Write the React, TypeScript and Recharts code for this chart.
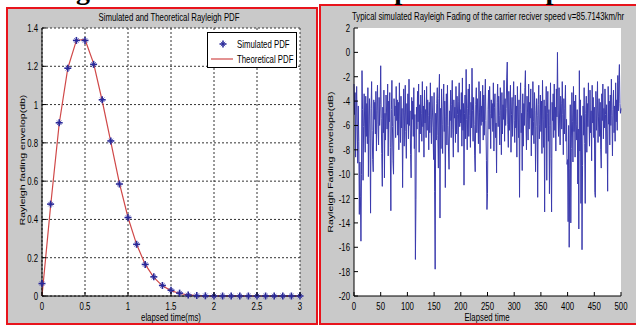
import { LineChart, Line, XAxis, YAxis, CartesianGrid, Legend } from 'recharts';

// left panel: Rayleigh PDF
const elapsedMs = [
  0, 0.1, 0.2, 0.3, 0.4, 0.5, 0.6, 0.7, 0.8, 0.9, 1, 1.1, 1.2, 1.3, 1.4, 1.5,
  1.6, 1.7, 1.8, 1.9, 2, 2.1, 2.2, 2.3, 2.4, 2.5, 2.6, 2.7, 2.8, 2.9, 3,
];
const simulatedPdf = [
  0.065, 0.48, 0.905, 1.19, 1.335, 1.335, 1.21, 1.025, 0.81, 0.585, 0.41, 0.27, 0.165, 0.1, 0.055, 0.03,
  0.015, 0.005, 0.002, 0.001, 0, 0, 0, 0, 0, 0, 0, 0, 0, 0, 0,
];
const theoreticalPdf = [
  0, 0.47, 0.9, 1.19, 1.335, 1.34, 1.215, 1.02, 0.805, 0.59, 0.41, 0.27, 0.165, 0.097, 0.053, 0.028,
  0.013, 0.006, 0.002, 0.001, 0, 0, 0, 0, 0, 0, 0, 0, 0, 0, 0,
];
const pdfTicksX = [0, 0.5, 1, 1.5, 2, 2.5, 3];
const pdfTicksY = [0, 0.2, 0.4, 0.6, 0.8, 1, 1.2, 1.4];

// right panel: simulated fading envelope (dB), samples 0..500
const fadingDb = [
  -2.6, -5.1, -3.3, -8.6, -4.9, -2.8, -6.2, -9.1, -4.4, -7.3,
  -13.3, -9.0, -11.8, -15.5, -10.0, -1.5, -4.7, -10.5, -6.1, -3.4,
  -5.8, -8.2, -3.6, -6.9, -4.2, -7.5, -2.9, -10.2, -5.3, -3.8,
  -7.1, -13.2, -4.6, -2.4, -6.4, -8.8, -9.8, -3.9, -5.5, -4.1,
  -6.7, -3.2, -8.1, -4.8, -2.7, -5.9, -7.6, -3.7, -6.0, -4.3,
  -1.1, -5.4, -8.3, -11.0, -4.5, -6.6, -3.1, -10.3, -5.0, -7.2,
  -3.5, -4.9, -6.3, -2.6, -8.5, -4.0, -5.7, -3.3, -7.8, -13.0,
  -4.7, -2.3, -6.1, -8.9, -10.0, -3.8, -5.2, -4.4, -7.0, -2.8,
  -5.6, -3.9, -6.8, -4.1, -8.0, -2.5, -5.3, -7.4, -3.6, -6.2,
  -4.6, -11.1, -5.8, -3.0, -7.7, -4.9, -2.7, -6.5, -8.7, -4.2,
  -5.9, -3.4, -7.1, -2.2, -6.0, -4.8, -8.4, -10.3, -3.7, -5.5,
  -4.0, -6.9, -2.9, -7.9, -5.1, -17.0, -12.1, -4.5, -6.3, -3.2,
  -5.7, -2.6, -8.2, -4.3, -6.7, -3.5, -5.0, -7.3, -2.4, -6.1,
  -4.4, -8.6, -3.1, -5.8, -4.7, -7.0, -2.8, -6.4, -3.9, -5.2,
  -8.0, -4.1, -6.6, -2.5, -5.5, -7.5, -3.6, -4.9, -6.2, -8.8,
  -3.3, -11.4, -17.8, -5.0, -7.2, -4.2, -2.9, -6.8, -9.5, -3.8,
  -1.8, -13.6, -4.6, -7.9, -3.0, -5.9, -8.3, -4.4, -2.6, -6.5,
  -4.0, -11.1, -5.3, -3.4, -7.6, -2.7, -6.0, -8.1, -9.6, -4.8,
  -5.6, -3.1, -7.0, -4.3, -2.3, -6.3, -8.6, -3.9, -5.4, -4.5,
  -7.4, -2.8, -6.7, -3.6, -5.1, -8.2, -4.0, -2.5, -6.1, -4.7,
  -5.8, -3.3, -7.7, -2.1, -6.4, -4.2, -10.9, -5.0, -3.5, -7.1,
  -1.4, -5.5, -8.0, -4.6, -3.0, -6.9, -2.6, -5.2, -7.8, -4.1,
  -6.2, -1.3, -4.8, -7.3, -3.7, -5.9, -8.5, -9.8, -4.3, -2.9,
  -6.6, -3.8, -5.3, -7.5, -2.4, -4.9, -8.3, -3.2, -6.0, -4.4,
  -5.7, -2.7, -7.2, -3.5, -6.8, -4.0, -2.2, -5.6, -8.9, -12.9,
  -11.6, -4.7, -3.1, -6.3, -2.8, -5.0, -7.9, -3.9, -5.4, -4.2,
  -6.5, -2.5, -8.1, -4.5, -3.4, -7.0, -5.8, -9.9, -4.1, -2.6,
  -6.1, -3.6, -5.2, -7.6, -2.9, -4.8, -8.4, -3.3, -6.7, -4.3,
  -5.5, -2.3, -7.3, -3.8, -6.0, -4.6, -2.1, -0.8, -5.9, -7.8,
  -3.2, -6.4, -4.9, -2.7, -8.2, -5.1, -3.7, -6.9, -4.0, -2.4,
  -5.6, -7.4, -3.5, -6.2, -4.4, -8.6, -2.8, -5.3, -7.0, -3.9,
  -11.9, -4.7, -2.5, -6.6, -5.0, -9.7, -3.4, -7.7, -4.2, -6.0,
  -2.9, -1.5, -5.8, -8.0, -3.6, -4.9, -7.2, -2.6, -6.3, -4.1,
  -5.4, -3.0, -8.5, -4.6, -6.8, -2.4, -5.7, -7.5, -3.3, -4.8,
  -9.8, -6.1, -3.8, -5.2, -11.9, -4.3, -2.7, -7.1, -5.9, -3.5,
  -6.5, -4.0, -8.3, -2.3, -5.5, -7.8, -3.9, -13.1, -4.4, -6.2,
  -2.8, -10.5, -5.0, -3.2, -7.3, -4.7, -11.6, -6.0, -2.5, -8.7,
  -13.1, -4.1, -5.6, -3.4, -7.0, -2.6, -6.4, -4.5, -8.1, -3.0,
  -5.3, 0.0, -4.8, -6.9, -2.9, -5.8, -7.6, -3.6, -4.2, -6.3,
  -2.4, -5.1, -8.4, -3.8, -6.7, -4.6, -2.7, -7.3, -5.5, -9.2,
  -8.8, -13.9, -6.0, -16.0, -9.5, -4.3, -14.0, -7.9, -3.3, -5.7,
  -9.0, -2.8, -6.5, -4.0, -8.6, -3.5, -5.9, -7.2, -4.7, -10.8,
  -6.3, -14.5, -1.5, -8.1, -3.9, -12.4, -5.2, -16.2, -9.3, -4.4,
  -6.8, -2.9, -7.5, -12.4, -5.0, -3.6, -8.2, -4.2, -6.1, -2.5,
  -5.4, -7.7, -3.1, -6.6, -4.8, -8.9, -2.7, -5.8, -3.7, -7.0,
  -4.5, -11.5, -11.9, -3.2, -6.4, -4.9, -2.4, -7.4, -5.3, -3.8,
  -6.9, -4.1, -8.0, -9.5, -3.4, -5.6, -2.6, -7.1, -4.6, -6.2,
  -3.0, -5.1, -8.3, -4.3, -6.7, -11.4, -2.8, -5.9, -4.0, -7.6,
  -3.5, -6.0, -2.2, -5.2, -8.5, -4.7, -3.1, -6.6, -4.4, -7.3,
  -2.5, -5.7, -3.9, -6.4, -1.9, -4.8, -2.3, -1.0, -4.2, -5.0,
  -4.6,
];
const fadingTicksX = [0, 50, 100, 150, 200, 250, 300, 350, 400, 450, 500];
const fadingTicksY = [2, 0, -2, -4, -6, -8, -10, -12, -14, -16, -18, -20];

const pdfData = elapsedMs.map((t, i) => ({ t, sim: simulatedPdf[i], theo: theoreticalPdf[i] }));
const fadingData = fadingDb.map((db, i) => ({ n: i, db }));

const FONT = '"Liberation Sans", Arial, sans-serif';
const SQ = 0.68; // the matlab screenshot is squeezed horizontally
const BG = '#c9c9c9';
const RED = '#e8141c';
const THEO = '#d04848';
const STAR = '#2a2a9a';

const squeeze = (x: number, y: number) => `translate(${x},${y}) scale(${SQ},1)`;

const BottomTick = ({ x, y, payload }: any) => (
  <g>
    <line x1={x} x2={x} y1={y} y2={y - 4} stroke="#000" />
    <text transform={squeeze(x, y + 14)} textAnchor="middle" fontSize={11.5} fontFamily={FONT} fill="#000">
      {payload.value}
    </text>
  </g>
);
const LeftTick = ({ x, y, payload }: any) => (
  <g>
    <line x1={x} x2={x + 4} y1={y} y2={y} stroke="#000" />
    <text transform={squeeze(x - 4, y + 4)} textAnchor="end" fontSize={11.5} fontFamily={FONT} fill="#000">
      {payload.value}
    </text>
  </g>
);
const TopTick = ({ x, y }: any) => <line x1={x} x2={x} y1={y} y2={y + 4} stroke="#000" />;
const RightTick = ({ x, y }: any) => <line x1={x} x2={x - 4} y1={y} y2={y} stroke="#000" />;

const renderStar = ({ cx, cy, index }: any) => (
  <g key={`s${index}`} stroke={STAR}>
    <line x1={cx - 3.5} x2={cx + 3.5} y1={cy} y2={cy} strokeWidth={1.6} />
    <line x1={cx} x2={cx} y1={cy - 3.5} y2={cy + 3.5} strokeWidth={1.6} />
    <line x1={cx - 2.2} x2={cx + 2.2} y1={cy - 2.2} y2={cy + 2.2} strokeWidth={0.8} />
    <line x1={cx - 2.2} x2={cx + 2.2} y1={cy + 2.2} y2={cy - 2.2} strokeWidth={0.8} />
  </g>
);

const PdfLegend = () => (
  <svg width={90} height={36} style={{ display: 'block' }}>
    <rect x={0.5} y={0.5} width={89} height={35} fill="#fff" stroke="#000" />
    {renderStar({ cx: 16, cy: 12, index: 0 })}
    <text transform={squeeze(30, 16)} fontSize={11.5} fontFamily={FONT} fill="#000">Simulated PDF</text>
    <line x1={4} x2={26} y1={27} y2={27} stroke={THEO} strokeWidth={1.2} />
    <text transform={squeeze(30, 31)} fontSize={11.5} fontFamily={FONT} fill="#000">Theoretical PDF</text>
  </svg>
);

const panel = (left: number, top: number, width: number, height: number): React.CSSProperties => ({
  position: 'absolute',
  left,
  top,
  width,
  height,
  border: `2px solid ${RED}`,
  boxSizing: 'border-box',
  background: BG,
});

export default function App() {
  return (
    <div style={{ position: 'absolute', left: 0, top: 0, width: 636, height: 327, overflow: 'hidden', background: '#fff' }}>
      <div style={panel(6, 7, 312, 318)}>
        <LineChart width={308} height={314} data={pdfData} margin={{ top: 19, right: 16, bottom: 0, left: 0 }}>
          <CartesianGrid fill="#fff" stroke="#333" strokeDasharray="2 2" />
          <XAxis dataKey="t" type="number" domain={[0, 3]} ticks={pdfTicksX} interval={0} height={27}
            tickSize={0} tickMargin={0} tickLine={false} tick={BottomTick} axisLine={{ stroke: '#000' }} />
          <XAxis xAxisId="top" dataKey="t" type="number" domain={[0, 3]} ticks={pdfTicksX} interval={0}
            orientation="top" height={0} tickSize={0} tickMargin={0} tickLine={false} tick={TopTick} axisLine={{ stroke: '#000' }} />
          <YAxis type="number" domain={[0, 1.4]} ticks={pdfTicksY} interval={0} width={34}
            tickSize={0} tickMargin={0} tickLine={false} tick={LeftTick} axisLine={{ stroke: '#000' }} />
          <YAxis yAxisId="right" type="number" domain={[0, 1.4]} ticks={pdfTicksY} interval={0} width={0}
            orientation="right" tickSize={0} tickMargin={0} tickLine={false} tick={RightTick} axisLine={{ stroke: '#000' }} />
          <Legend content={PdfLegend} layout="vertical" align="center" verticalAlign="middle"
            wrapperStyle={{ left: 199, top: 23, width: 90, height: 36 }} />
          <Line type="linear" dataKey="theo" stroke={THEO} strokeWidth={1.2} dot={false} activeDot={false} isAnimationActive={false} />
          <Line type="linear" dataKey="sim" stroke="none" dot={renderStar} activeDot={false} isAnimationActive={false} />
        </LineChart>
      </div>
      <div style={panel(319, 4, 321, 321)}>
        <LineChart width={317} height={317} data={fadingData} margin={{ top: 22, right: 17, bottom: 0, left: 0 }}>
          <CartesianGrid fill="#fff" horizontal={false} vertical={false} />
          <XAxis dataKey="n" type="number" domain={[0, 500]} ticks={fadingTicksX} interval={0} height={27}
            tickSize={0} tickMargin={0} tickLine={false} tick={BottomTick} axisLine={{ stroke: '#000' }} />
          <XAxis xAxisId="top" dataKey="n" type="number" domain={[0, 500]} ticks={fadingTicksX} interval={0}
            orientation="top" height={0} tickSize={0} tickMargin={0} tickLine={false} tick={TopTick} axisLine={{ stroke: '#000' }} />
          <YAxis type="number" domain={[-20, 2]} ticks={fadingTicksY} interval={0} width={33}
            tickSize={0} tickMargin={0} tickLine={false} tick={LeftTick} axisLine={{ stroke: '#000' }} />
          <YAxis yAxisId="right" type="number" domain={[-20, 2]} ticks={fadingTicksY} interval={0} width={0}
            orientation="right" tickSize={0} tickMargin={0} tickLine={false} tick={RightTick} axisLine={{ stroke: '#000' }} />
          <Line type="linear" dataKey="db" stroke="#3a3aad" strokeWidth={1} dot={false} activeDot={false} isAnimationActive={false} />
        </LineChart>
      </div>
      <svg width={636} height={327} style={{ position: 'absolute', left: 0, top: 0, pointerEvents: 'none' }}>
        <g fontFamily='"Liberation Serif", "Times New Roman", serif' fontWeight="bold" fontSize={28} fill="#000">
          <text x={51} y={-1}>Figure 8: Simulated</text>
          <text x={318} y={-1}>envelope</text>
          <text x={460} y={-1}>at the speed</text>
        </g>
        <g fontFamily={FONT} fontSize={11.5} fill="#000">
          <text transform={squeeze(169, 21)} textAnchor="middle">Simulated and Theoretical Rayleigh PDF</text>
          <text transform={squeeze(488, 20)} textAnchor="middle">
            Typical simulated Rayleigh Fading of the carrier reciver speed v=85.7143km/hr
          </text>
          <text transform={squeeze(171, 321)} textAnchor="middle">elapsed time(ms)</text>
          <text transform={squeeze(487, 321)} textAnchor="middle">Elapsed time</text>
        </g>
        <g fontFamily={FONT} fontSize={10.5} fill="#000">
          <text transform={`translate(25,160) scale(${SQ},1) rotate(-90)`} textAnchor="middle">Rayleigh fading envelop(db)</text>
          <text transform={`translate(333,162) scale(${SQ},1) rotate(-90)`} textAnchor="middle">Rayleigh Fading envelope(dB)</text>
        </g>
      </svg>
    </div>
  );
}
